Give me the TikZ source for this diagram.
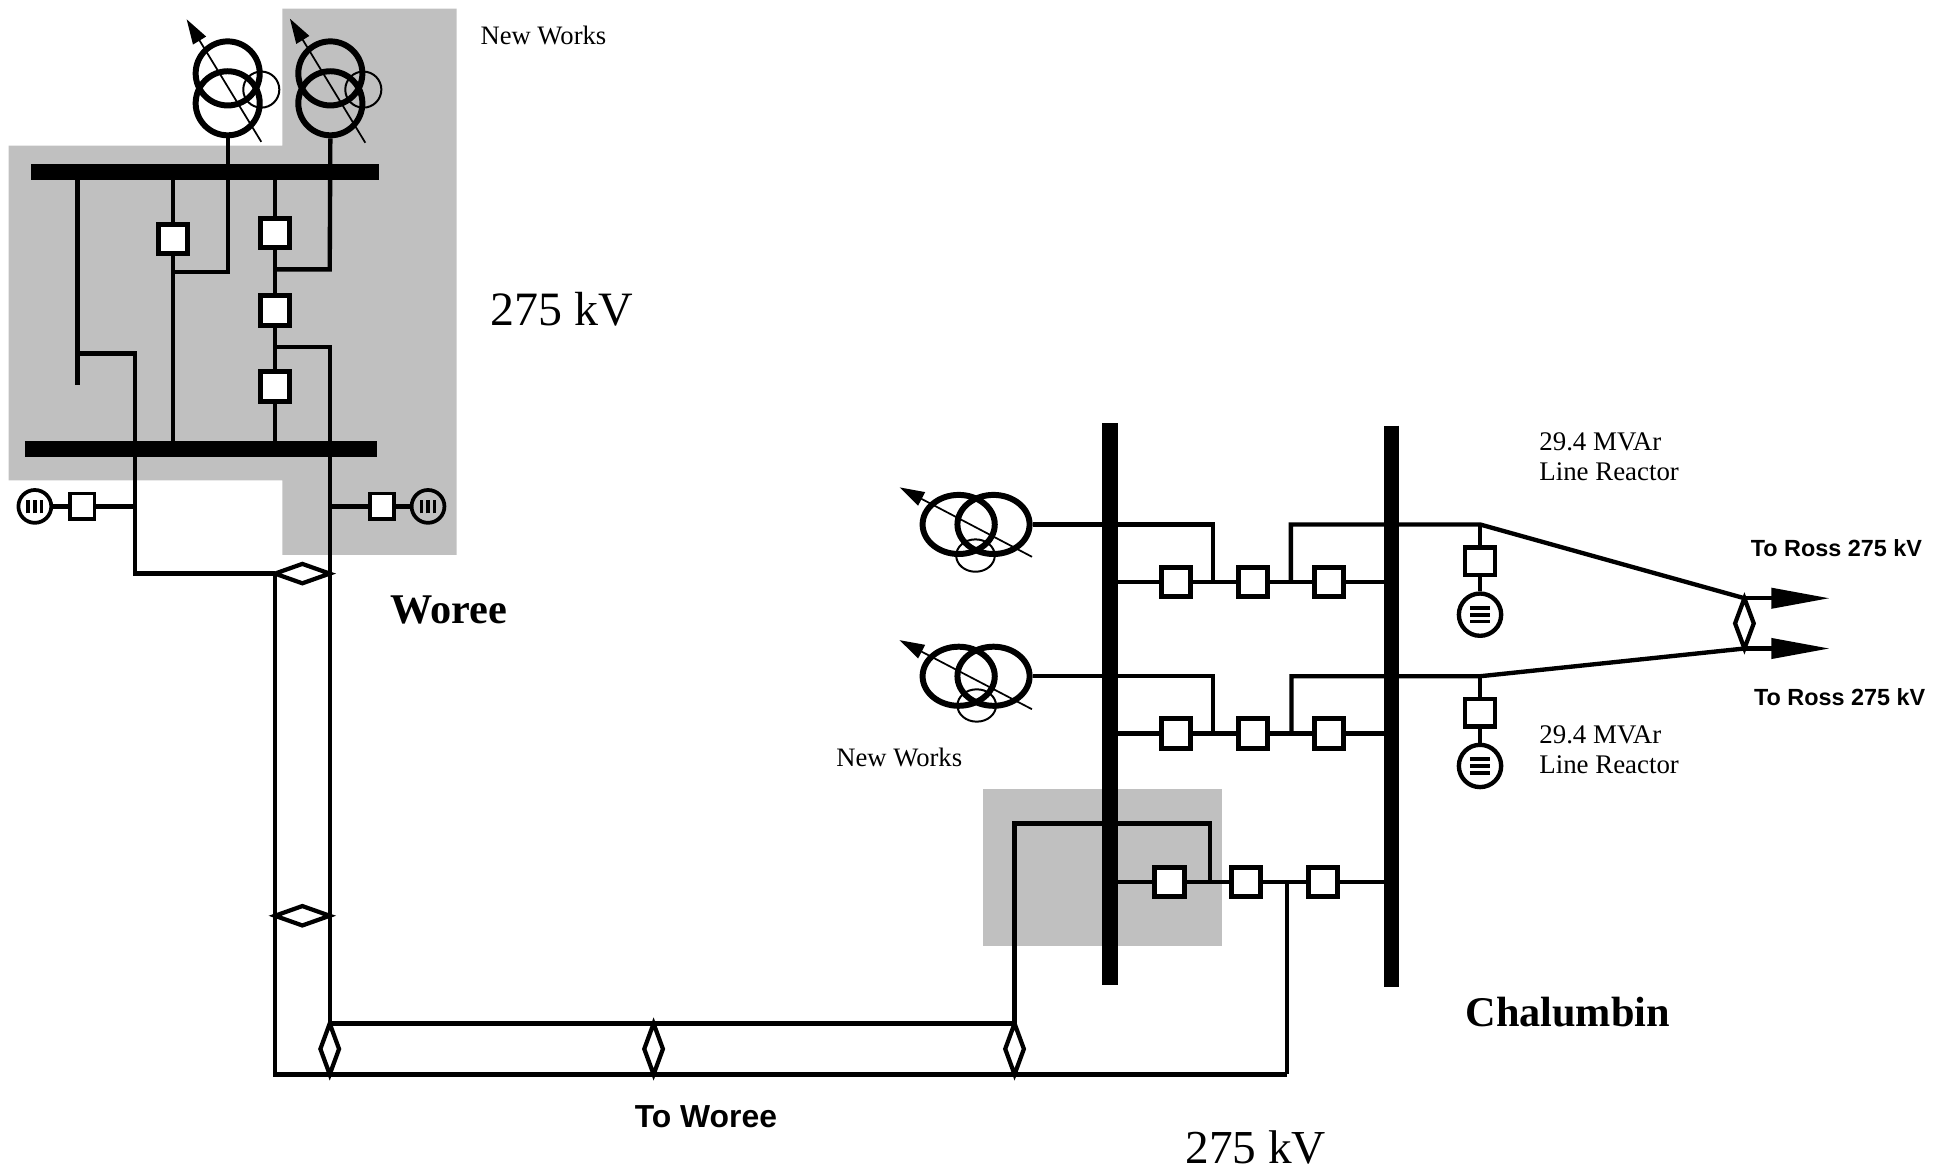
\documentclass[tikz,border=0pt]{standalone}
\usepackage{fontspec}
\setmainfont{Liberation Serif}
\newfontfamily\sansf{Liberation Sans}
\usetikzlibrary{arrows.meta,shapes.geometric,calc}
\definecolor{greyfill}{HTML}{C0C0C0}
\pgfdeclarelayer{bg}
\pgfdeclarelayer{wires}
\pgfsetlayers{bg,wires,main}
\begin{document}
\begin{tikzpicture}[x=1pt,y=-1pt,
  wire/.style={line width=3.5pt, line join=miter},
  hbus/.style={line width=12.7pt},
  vbus/.style={line width=12.5pt},
  brk/.style={draw, fill=white, line width=4pt, minimum width=23.5pt, minimum height=23.5pt, inner sep=0pt},
  brks/.style={draw, fill=white, line width=2.8pt, minimum width=19.5pt, minimum height=20.5pt, inner sep=0pt},
  brkr/.style={draw, fill=white, line width=3.5pt, minimum width=24.5pt, minimum height=22pt, inner sep=0pt},
  twc/.style={draw, circle, line width=4.8pt, minimum size=51.5pt, inner sep=0pt},
  tws/.style={draw, circle, line width=1.6pt, minimum size=29pt, inner sep=0pt},
  tce/.style={draw, ellipse, line width=4.8pt, minimum width=58pt, minimum height=47.5pt, inner sep=0pt},
  tcs/.style={draw, ellipse, line width=1.6pt, minimum width=31pt, minimum height=26pt, inner sep=0pt},
  tarr/.style={line width=1.4pt, -{Triangle[length=20pt,width=12pt]}},
  rarr/.style={line width=3.5pt, -{Triangle[length=47pt,width=16pt]}},
  dia/.style={line width=3.4pt, line join=miter},
  gen/.style={draw, circle, line width=3pt, minimum size=26.4pt, inner sep=0pt,
    path picture={\foreach \dx in {-5.4,0,5.4}{\draw[line width=2.7pt]
      ([xshift=\dx pt,yshift=-5.5pt]path picture bounding box.center) --
      ([xshift=\dx pt,yshift=5.5pt]path picture bounding box.center);}}},
  reac/.style={draw, circle, line width=3.5pt, minimum size=34pt, inner sep=0pt,
    path picture={\foreach \dy in {-5.4,0,5.4}{\draw[line width=3pt]
      ([xshift=-8pt,yshift=\dy pt]path picture bounding box.center) --
      ([xshift=8pt,yshift=\dy pt]path picture bounding box.center);}}},
  lbl/.style={inner sep=0pt, anchor=base west}
]
\useasboundingbox (0,0) rectangle (1560,940.34);

% ---------- shaded areas ----------
\begin{pgfonlayer}{bg}
\fill[greyfill] (7,117) -- (227,117) -- (227,7) -- (367,7) -- (367,446) -- (227,446) -- (227,386) -- (7,386) -- cycle;
\fill[greyfill] (790,634) rectangle (982,760);
\end{pgfonlayer}

% ---------- Woree coordinates ----------
\coordinate (tbL) at (25,138.4);  \coordinate (tbR) at (305,138.4);
\coordinate (bbL) at (20,361);    \coordinate (bbR) at (303,361);
\coordinate (a0) at (62.4,138.4); \coordinate (a1) at (62.4,309.5);
\coordinate (a2) at (62.4,284);   \coordinate (a3) at (108.5,284);
\coordinate (a4) at (108.5,461);
\coordinate (dwL) at (221,461);   \coordinate (dwR) at (265,461);
\coordinate (b0) at (139,138.4);  \coordinate (b1) at (139,361);
\coordinate (bj) at (139,218.4);  \coordinate (t1j) at (183,218.4);
\coordinate (c0) at (221,138.4);  \coordinate (c1) at (221,361);
\coordinate (cj1) at (221,216.5); \coordinate (t2j) at (265,216.5);
\coordinate (cj2) at (221,279);   \coordinate (rj) at (265,279);
\coordinate (gLj) at (108.5,407); \coordinate (gRj) at (265,407);
\coordinate (dmL) at (221,736);   \coordinate (dmR) at (265,736);
\coordinate (lv1) at (221,863.5);
\coordinate (up0) at (265,822.6); \coordinate (up1) at (815.4,822.6);
\coordinate (lw0) at (265,863.5); \coordinate (lwm) at (525.3,863.5);
\coordinate (upm) at (525.3,822.6); \coordinate (lw2) at (815.4,863.5);
\coordinate (lowR) at (1034.3,863.5);
\coordinate (t1tail) at (210,114); \coordinate (t1tip) at (150,15.5);
\coordinate (t2tail) at (293.6,114.7); \coordinate (t2tip) at (233,15);

% ---------- Woree nodes ----------
\node[twc] (t1u) at (183,59) {};
\node[twc] (t1l) at (183,83) {};
\node[tws] (t1s) at (210,72) {};
\node[twc] (t2u) at (265.5,59) {};
\node[twc] (t2l) at (265.5,83) {};
\node[tws] (t2s) at (292,72) {};
\node[brk] (wbB) at (139,192) {};
\node[brk] (wbC1) at (221,187.5) {};
\node[brk] (wbC2) at (221,249.6) {};
\node[brk] (wbC3) at (221,310.6) {};
\node[gen] (gL) at (28,407) {};
\node[brks] (bgL) at (66,407) {};
\node[gen] (gR) at (344,407) {};
\node[brks] (bgR) at (307,407) {};

% ---------- Chalumbin coordinates ----------
\coordinate (B1t) at (892,340);    \coordinate (B1b) at (892,792);
\coordinate (B2t) at (1118.5,342); \coordinate (B2b) at (1118.5,793);
\coordinate (r1a) at (892,421.5);  \coordinate (r1b) at (975,421.5);
\coordinate (r1c) at (975,467.6);  \coordinate (r1d) at (1037.5,467.6);
\coordinate (r1e) at (1037.5,421.5); \coordinate (r1f) at (1118.5,421.5);
\coordinate (r1g) at (1189.5,421.5);
\coordinate (r1L) at (892,467.6);  \coordinate (r1R) at (1118.5,467.6);
\coordinate (r2a) at (892,543.5);  \coordinate (r2b) at (975,543.5);
\coordinate (r2c) at (975,589.5);  \coordinate (r2d) at (1038,589.5);
\coordinate (r2e) at (1038,543.5); \coordinate (r2f) at (1118.5,543.5);
\coordinate (r2g) at (1189.5,543.5);
\coordinate (r2L) at (892,589.5);  \coordinate (r2R) at (1118.5,589.5);
\coordinate (r3L) at (892,708.7);  \coordinate (r3R) at (1118.5,708.7);
\coordinate (l3a) at (815.4,661.8); \coordinate (l3b) at (972.7,661.8);
\coordinate (l3c) at (972.7,708.7); \coordinate (v3a) at (1034.3,708.7);
\coordinate (rs1) at (1402,480.8); \coordinate (rs2) at (1402,521.2);
\coordinate (ra1) at (1470.6,480.8); \coordinate (ra2) at (1470.6,521.2);
\coordinate (t3tail) at (829.4,447.5); \coordinate (t3tip) at (723,391.7);
\coordinate (t4tail) at (829.4,570);   \coordinate (t4tip) at (723,514.5);

% ---------- Chalumbin nodes ----------
\node[tce] (t3a) at (770.5,421.5) {};
\node[tce] (t3b) at (798.5,421.5) {};
\node[tcs] (t3s) at (784,446.5) {};
\node[tce] (t4a) at (770.5,543.5) {};
\node[tce] (t4b) at (798.5,543.5) {};
\node[tcs] (t4s) at (785,567) {};
\node[brk] (c11) at (945,467.6) {};
\node[brk] (c12) at (1006.8,467.6) {};
\node[brk] (c13) at (1068,467.6) {};
\node[brk] (c21) at (945,589.5) {};
\node[brk] (c22) at (1006.8,589.5) {};
\node[brk] (c23) at (1068,589.5) {};
\node[brk] (c31) at (940,708.7) {};
\node[brk] (c32) at (1001.6,708.7) {};
\node[brk] (c33) at (1063.5,708.7) {};
\node[brkr] (rb1) at (1189.5,451) {};
\node[reac] (rc1) at (1189.5,494) {};
\node[brkr] (rb2) at (1189.5,573) {};
\node[reac] (rc2) at (1189.5,615.6) {};

% ---------- wires ----------
\begin{pgfonlayer}{wires}
% Woree buses
\draw[hbus] (tbL) -- (tbR);
\draw[hbus] (bbL) -- (bbR);
% bays
\draw[wire] (a0) -- (a1);
\draw[wire] (a2) -- (a3) -- (a4) -- (dwL);
\draw[wire] (b0) -- (b1);
\draw[wire] (bj) -- (t1j) -- (t1l.south);
\draw[wire] (c0) -- (c1);
\draw[wire] (cj1) -- (t2j) -- (t2l.south);
\draw[wire] (cj2) -- (rj) -- (up0);
\draw[wire] (gLj) -- (bgL) -- (gL);
\draw[wire] (gRj) -- (bgR) -- (gR);
% lines to Chalumbin
\draw[wire] (dwL) -- (lv1) -- (lowR);
\draw[wire] (up0) -- (up1);
% Chalumbin buses
\draw[vbus] (B1t) -- (B1b);
\draw[vbus] (B2t) -- (B2b);
% row 1
\draw[wire] (t3b.east) -- (r1a) -- (r1b) -- (r1c);
\draw[wire] (r1L) -- (r1R);
\draw[wire] (r1d) -- (r1e) -- (r1f) -- (r1g) -- (rs1);
\draw[wire] (r1g) -- (rb1) -- (rc1);
% row 2
\draw[wire] (t4b.east) -- (r2a) -- (r2b) -- (r2c);
\draw[wire] (r2L) -- (r2R);
\draw[wire] (r2d) -- (r2e) -- (r2f) -- (r2g) -- (rs2);
\draw[wire] (r2g) -- (rb2) -- (rc2);
% row 3
\draw[wire] (r3L) -- (r3R);
\draw[wire] (up1) -- (l3a) -- (l3b) -- (l3c);
\draw[wire] (v3a) -- (lowR);
% to Ross
\draw[rarr] (rs1) -- (ra1);
\draw[rarr] (rs2) -- (ra2);
% diamonds
\draw[dia] (dwL) -- ($(dwL)!0.5!(dwR)+(0,-7.8)$) -- (dwR) -- ($(dwL)!0.5!(dwR)+(0,7.8)$) -- cycle;
\draw[dia] (dmL) -- ($(dmL)!0.5!(dmR)+(0,-7.8)$) -- (dmR) -- ($(dmL)!0.5!(dmR)+(0,7.8)$) -- cycle;
\draw[dia] (up0) -- ($(up0)!0.5!(lw0)+(7.5,0)$) -- (lw0) -- ($(up0)!0.5!(lw0)+(-7.5,0)$) -- cycle;
\draw[dia] (upm) -- ($(upm)!0.5!(lwm)+(7.5,0)$) -- (lwm) -- ($(upm)!0.5!(lwm)+(-7.5,0)$) -- cycle;
\draw[dia] (up1) -- ($(up1)!0.5!(lw2)+(7.5,0)$) -- (lw2) -- ($(up1)!0.5!(lw2)+(-7.5,0)$) -- cycle;
\draw[dia] (rs1) -- ($(rs1)!0.5!(rs2)+(7.5,0)$) -- (rs2) -- ($(rs1)!0.5!(rs2)+(-7.5,0)$) -- cycle;
% tap-changer arrows
\draw[tarr] (t1tail) -- (t1tip);
\draw[tarr] (t2tail) -- (t2tip);
\draw[tarr] (t3tail) -- (t3tip);
\draw[tarr] (t4tail) -- (t4tip);
\end{pgfonlayer}

% ---------- labels ----------
\node[lbl, font=\fontsize{21.4}{24}\selectfont] (nwA) at (386,36) {New Works};
\node[lbl, font=\fontsize{38.5}{40}\selectfont] (kvA) at (394,261.3) {275 kV};
\node[lbl, font=\fontsize{34}{36}\selectfont\bfseries] (woree) at (313.5,501) {Woree};
\node[lbl, font=\fontsize{21.4}{24}\selectfont] (nwB) at (672,616) {New Works};
\node[lbl, font=\fontsize{21.6}{24}\selectfont] (rl1a) at (1237,361.7) {29.4 MVAr};
\node[lbl, font=\fontsize{21.6}{24}\selectfont] (rl1b) at (1237,385.8) {Line Reactor};
\node[lbl, font=\fontsize{21.6}{24}\selectfont] (rl2a) at (1237,597.5) {29.4 MVAr};
\node[lbl, font=\fontsize{21.6}{24}\selectfont] (rl2b) at (1237,621.6) {Line Reactor};
\node[lbl, font=\sansf\bfseries\fontsize{18.8}{20}\selectfont] (ross1) at (1407,447.5) {To Ross 275 kV};
\node[lbl, font=\sansf\bfseries\fontsize{18.8}{20}\selectfont] (ross2) at (1409.6,566.7) {To Ross 275 kV};
\node[lbl, font=\fontsize{34}{36}\selectfont\bfseries] (chal) at (1177.6,825) {Chalumbin};
\node[lbl, font=\fontsize{38}{40}\selectfont] (kvB) at (952.6,935) {275 kV};
\node[lbl, font=\sansf\bfseries\fontsize{25.6}{28}\selectfont] (towor) at (510,906) {To Woree};
\end{tikzpicture}
\end{document}
